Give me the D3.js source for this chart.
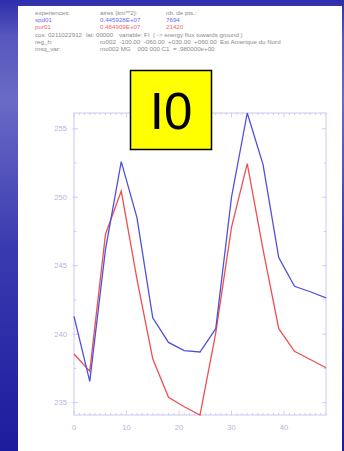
<!DOCTYPE html>
<html>
<head>
<meta charset="utf-8">
<script src="https://cdn.jsdelivr.net/npm/d3@7/dist/d3.min.js"></script>
<style>
  html, body { margin: 0; padding: 0; background: #2a2aa8; }
  svg { display: block; }
</style>
</head>
<body>
<svg id="chart" width="344" height="451"></svg>
<script>
// Sample positions (every 3 units) and the two flux series
const xValues = [0, 3, 6, 9, 12, 15, 18, 21, 24, 27, 30, 33, 36, 39, 42, 45, 48];
const spd01 = [241.3, 236.55, 246.2, 252.6, 248.5, 241.2, 239.4, 238.8, 238.7, 240.4,
               250.0, 256.15, 252.4, 245.6, 243.5, 243.1, 242.65];
const por01 = [238.55, 237.3, 247.3, 250.45, 244.0, 238.2, 235.4, 234.7, 234.1, 240.1,
               247.8, 252.45, 246.2, 240.4, 238.75, 238.15, 237.55];

const xTicks = [0, 10, 20, 30, 40];
const yTicks = [235, 240, 245, 250, 255];

// Header block: column texts per row
const headerRows = [
  { cls: "grey", cols: ["experiences:", "aires (km**2):", "nb. de pts.:"] },
  { cls: "blue", cols: ["spd01", "0.445928E+07", "7694"] },
  { cls: "red",  cols: ["por01", "0.484909E+07", "21420"] }
];
const headerLines = [
  ["cos: 0211022912", "lat: 00000", "variable: FI  ( -> energy flux towards ground )"],
  ["reg_h:", "ro002  -100.00  -060.00  +030.00  +060.00  Est Amerique du Nord"],
  ["msq_var:", "mo002 MG    000 000 C1  = .980000e+00"]
];
const boxLabel = "I0";

const svg = d3.select("#chart");

// Backdrop gradient
const defs = svg.append("defs");
const bg = defs.append("linearGradient").attr("id", "bg")
  .attr("x1", 0).attr("y1", 0).attr("x2", 0).attr("y2", 1);
bg.append("stop").attr("offset", "0%").attr("stop-color", "#2e2eac");
bg.append("stop").attr("offset", "8%").attr("stop-color", "#5656bd");
bg.append("stop").attr("offset", "22%").attr("stop-color", "#6a6ac6");
bg.append("stop").attr("offset", "55%").attr("stop-color", "#3a3ab0");
bg.append("stop").attr("offset", "100%").attr("stop-color", "#1c1c9e");
svg.append("rect").attr("width", 344).attr("height", 451).attr("fill", "url(#bg)");

// White panel
svg.append("rect").attr("x", 18).attr("y", 6).attr("width", 324).attr("height", 445)
  .attr("fill", "#ffffff");

// Header text
const hx = [35, 100, 166];
const hy = [15, 22, 29];
const colours = { grey: "#8a8a8a", blue: "#6a6af0", red: "#f06a6a" };
const header = svg.append("g")
  .attr("font-family", "Liberation Sans, Arial, sans-serif")
  .attr("font-size", "6.2px");
headerRows.forEach((row, i) => {
  row.cols.forEach((t, j) => {
    header.append("text").attr("x", hx[j]).attr("y", hy[i])
      .attr("fill", colours[row.cls]).text(t);
  });
});
const lx = [[35, 86, 119], [35, 100], [35, 100]];
const ly = [37, 44, 51];
headerLines.forEach((line, i) => {
  line.forEach((t, j) => {
    header.append("text").attr("x", lx[i][j]).attr("y", ly[i])
      .attr("fill", "#8a8a8a").attr("xml:space", "preserve")
      .style("white-space", "pre").text(t);
  });
});

// Scales
const allVals = spd01.concat(por01);
const x = d3.scaleLinear().domain([0, 48]).range([74, 326]);
const y = d3.scaleLinear().domain([d3.min(allVals), d3.max(allVals)]).range([415, 113]);

const axisCol = "#cacaee";
const labelCol = "#b4b4e2";
const plot = svg.append("g");

// Frame
plot.append("rect")
  .attr("x", x.range()[0]).attr("y", y.range()[1])
  .attr("width", x.range()[1] - x.range()[0])
  .attr("height", y.range()[0] - y.range()[1])
  .attr("fill", "none").attr("stroke", axisCol).attr("stroke-width", 1);

// Bottom/top ticks (minor every unit, major every 10)
const xMinor = d3.range(0, 49, 1);
const yB = y.range()[0], yT = y.range()[1];
xMinor.forEach(v => {
  const len = (v % 10 === 0) ? 4.5 : 2.2;
  plot.append("line").attr("x1", x(v)).attr("x2", x(v))
    .attr("y1", yB).attr("y2", yB - len).attr("stroke", axisCol).attr("stroke-width", 0.9);
  plot.append("line").attr("x1", x(v)).attr("x2", x(v))
    .attr("y1", yT).attr("y2", yT + len).attr("stroke", axisCol).attr("stroke-width", 0.9);
});

// Left/right ticks (major every 5, minor halfway)
const yMinor = d3.range(235, 256.5, 2.5);
const xL = x.range()[0], xR = x.range()[1];
yMinor.forEach(v => {
  const major = (v % 5 === 0);
  const len = major ? 4 : 2.5;
  plot.append("line").attr("x1", xL - (major ? 1.5 : 0)).attr("x2", xL + len)
    .attr("y1", y(v)).attr("y2", y(v)).attr("stroke", axisCol).attr("stroke-width", 0.9);
  plot.append("line").attr("x1", xR).attr("x2", xR - len)
    .attr("y1", y(v)).attr("y2", y(v)).attr("stroke", axisCol).attr("stroke-width", 0.9);
});

// Tick labels
const labels = plot.append("g")
  .attr("font-family", "Liberation Sans, Arial, sans-serif")
  .attr("font-size", "7.6px").attr("fill", labelCol);
xTicks.forEach(v => {
  labels.append("text").attr("x", x(v)).attr("y", 430)
    .attr("text-anchor", "middle").text(v);
});
yTicks.forEach(v => {
  labels.append("text").attr("x", 67).attr("y", y(v) + 2.7)
    .attr("text-anchor", "end").text(v);
});

// Series lines
const line = d3.line().x((d, i) => x(xValues[i])).y(d => y(d));
plot.append("path").datum(por01).attr("d", line)
  .attr("fill", "none").attr("stroke", "#ee5050").attr("stroke-width", 1.3)
  .attr("stroke-linejoin", "miter");
plot.append("path").datum(spd01).attr("d", line)
  .attr("fill", "none").attr("stroke", "#5050dc").attr("stroke-width", 1.3)
  .attr("stroke-linejoin", "miter");

// Yellow label box
svg.append("rect").attr("x", 130.5).attr("y", 70.5).attr("width", 81).attr("height", 79)
  .attr("fill", "#ffff00").attr("stroke", "#000").attr("stroke-width", 1.5);
svg.append("text").attr("x", 171).attr("y", 128.5)
  .attr("text-anchor", "middle")
  .attr("font-family", "Liberation Sans, Arial, sans-serif")
  .attr("font-size", "51px").attr("fill", "#000").text(boxLabel);
</script>
</body>
</html>
